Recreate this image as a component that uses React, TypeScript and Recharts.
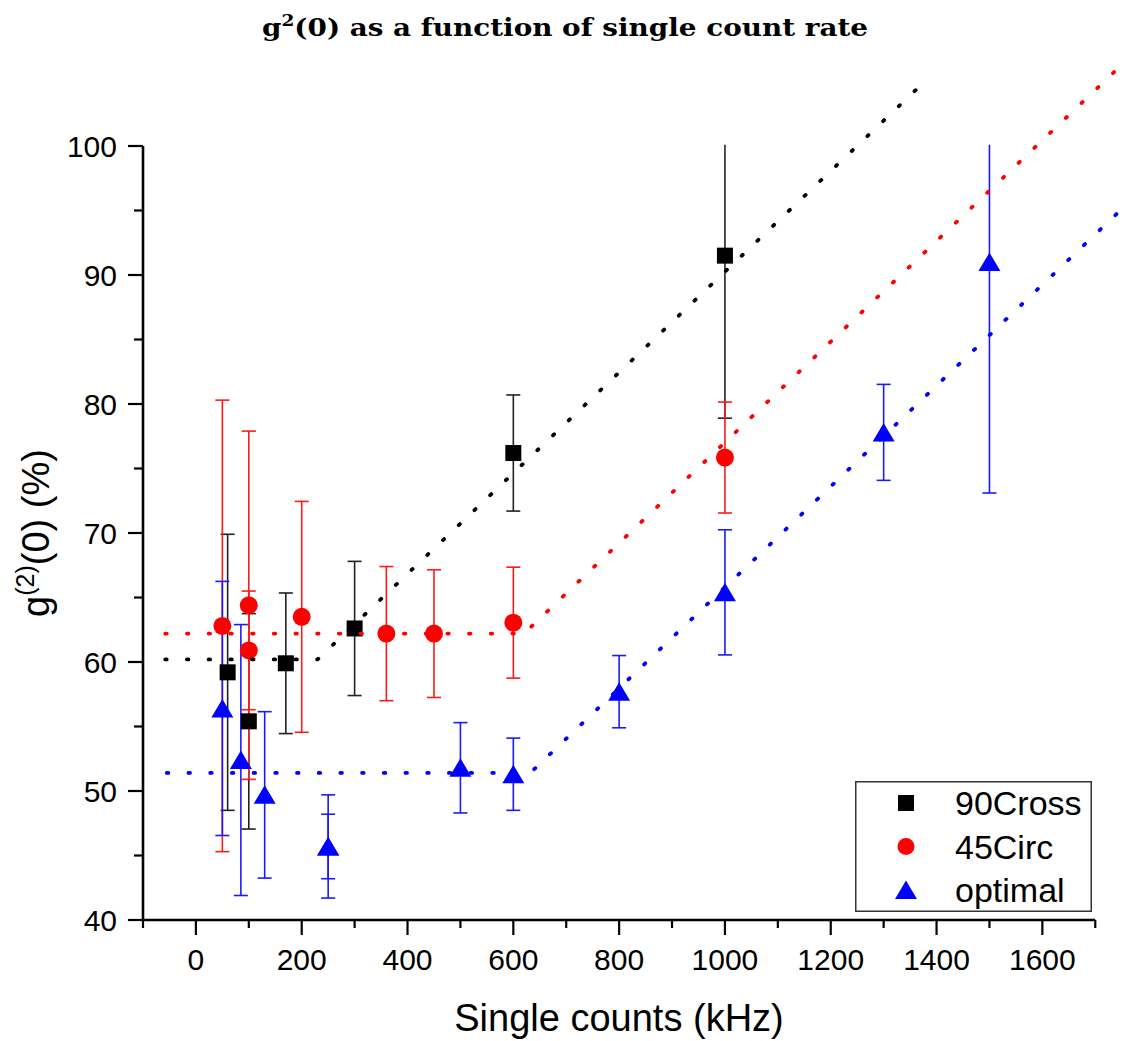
import React from "react";
import {
  ComposedChart,
  Scatter,
  Line,
  XAxis,
  YAxis,
  ErrorBar,
  ReferenceLine,
  ReferenceArea,
  Legend,
} from "recharts";

// measured points: x = single counts (kHz), y = g2(0) (%), e = error
const cross90 = [
  { x: 60, y: 59.2, e: 10.7 },
  { x: 100, y: 55.4, e: 8.35 },
  { x: 170, y: 59.9, e: 5.45 },
  { x: 300, y: 62.6, e: 5.2 },
  { x: 600, y: 76.2, e: 4.5 },
  { x: 1000, y: 91.5, e: 12.6 },
];

const circ45 = [
  { x: 50, y: 62.8, e: 17.5 },
  { x: 100, y: 64.4, e: 13.5 },
  { x: 100, y: 60.9, e: 4.6 },
  { x: 200, y: 63.5, e: 8.95 },
  { x: 360, y: 62.2, e: 5.2 },
  { x: 450, y: 62.2, e: 4.95 },
  { x: 600, y: 63.05, e: 4.3 },
  { x: 1000, y: 75.85, e: 4.3 },
];

const optimal = [
  { x: 50, y: 56.4, e: 9.85 },
  { x: 85, y: 52.4, e: 10.5 },
  { x: 130, y: 49.7, e: 6.45 },
  { x: 250, y: 45.7, e: 4.0 },
  { x: 250, y: 45.7, e: 2.5 },
  { x: 500, y: 51.8, e: 3.5 },
  { x: 600, y: 51.3, e: 2.8 },
  { x: 800, y: 57.7, e: 2.8 },
  { x: 1000, y: 65.4, e: 4.85 },
  { x: 1300, y: 77.8, e: 3.72 },
  { x: 1500, y: 91.0, e: 17.9 },
];

// piecewise fits (flat then linear)
const fitCross90 = [
  { x: -58, y: 60.2 },
  { x: 230, y: 60.2 },
  { x: 1370, y: 104.7 },
];
const fitCirc45 = [
  { x: -58, y: 62.2 },
  { x: 620, y: 62.2 },
  { x: 1745, y: 106.1 },
];
const fitOptimal = [
  { x: -55, y: 51.4 },
  { x: 632, y: 51.4 },
  { x: 1760, y: 95.5 },
];

const xTicks = [-100, 0, 100, 200, 300, 400, 500, 600, 700, 800, 900, 1000, 1100, 1200, 1300, 1400, 1500, 1600, 1700];
const yTicks = [40, 45, 50, 55, 60, 65, 70, 75, 80, 85, 90, 95, 100];

const legendNames = ["90Cross", "45Circ", "optimal"];
const colors = ["#000000", "#ff0000", "#0000ff"];

const FONT = "'Liberation Sans', Arial, sans-serif";
const dotted = { strokeWidth: 3.8, strokeDasharray: "1.5 20.2", strokeLinecap: "round" as const };

const XTick = (props: any) => {
  const { x, y, payload } = props;
  const v = payload.value;
  const major = v % 200 === 0;
  return (
    <g>
      <line x1={x} y1={y} x2={x} y2={y + (major ? 15 : 8)} stroke="#000" strokeWidth={2.2} />
      {major && (
        <text x={x} y={y + 50} textAnchor="middle" fontSize={30} fontFamily={FONT} fill="#000">
          {v}
        </text>
      )}
    </g>
  );
};

const YTick = (props: any) => {
  const { x, y, payload } = props;
  const v = payload.value;
  const major = v % 10 === 0;
  return (
    <g>
      <line x1={x - (major ? 15 : 9)} y1={y} x2={x} y2={y} stroke="#000" strokeWidth={2.2} />
      {major && (
        <text x={x - 26} y={y} dy="0.36em" textAnchor="end" fontSize={30} fontFamily={FONT} fill="#000">
          {v}
        </text>
      )}
    </g>
  );
};

const YLabel = () => (
  <text
    x={49}
    y={533}
    transform="rotate(-90 49 533)"
    textAnchor="middle"
    fontSize={38}
    fontFamily={FONT}
    fill="#000"
  >
    g
    <tspan dy={-15} fontSize={25}>
      (2)
    </tspan>
    <tspan dy={15}>(0) (%)</tspan>
  </text>
);

const XLabel = () => (
  <text x={619} y={1031} textAnchor="middle" fontSize={38} fontFamily={FONT} fill="#000">
    Single counts (kHz)
  </text>
);

const Square = (p: any) => <rect x={p.cx - 8} y={p.cy - 8} width={16} height={16} fill={colors[0]} />;
const Circle = (p: any) => <circle cx={p.cx} cy={p.cy} r={9} fill={colors[1]} />;
const Triangle = (p: any) => (
  <polygon
    points={`${p.cx},${p.cy - 9.5} ${p.cx + 11},${p.cy + 9} ${p.cx - 11},${p.cy + 9}`}
    fill={colors[2]}
  />
);

const renderLegend = () => (
  <svg width={237} height={131} style={{ display: "block" }}>
    <rect x={0.75} y={0.75} width={235.5} height={129.5} fill="#fff" stroke="#333" strokeWidth={1.5} />
    {legendNames.map((name, i) => {
      const cy = 22 + i * 43.5;
      const cx = 51;
      return (
        <g key={name}>
          {i === 0 && <rect x={cx - 8} y={cy - 8} width={16} height={16} fill={colors[0]} />}
          {i === 1 && <circle cx={cx} cy={cy} r={8.5} fill={colors[1]} />}
          {i === 2 && (
            <polygon points={`${cx},${cy - 9.5} ${cx + 11},${cy + 9} ${cx - 11},${cy + 9}`} fill={colors[2]} />
          )}
          <text x={100} y={cy} dy="0.36em" fontSize={34} fontFamily={FONT} fill="#000">
            {name}
          </text>
        </g>
      );
    })}
  </svg>
);

export default function App() {
  return (
    <div style={{ position: "absolute", left: 0, top: 0, width: 1127, height: 1041, background: "#fff" }}>
      <ComposedChart width={1127} height={1041} margin={{ top: 17, right: 0, bottom: 0, left: 0 }}>
        <XAxis
          dataKey="x"
          type="number"
          domain={[-100, 1760]}
          ticks={xTicks}
          interval={0}
          tick={<XTick />}
          tickLine={false}
          axisLine={false}
          tickSize={0}
          tickMargin={0}
          height={121}
          label={<XLabel />}
        />
        <YAxis
          type="number"
          domain={[40, 110]}
          ticks={yTicks}
          interval={0}
          tick={<YTick />}
          tickLine={false}
          axisLine={false}
          tickSize={0}
          tickMargin={0}
          width={143}
          label={<YLabel />}
        />
        <Scatter name="90Cross" data={cross90} dataKey="y" fill={colors[0]} shape={Square} isAnimationActive={false}>
          <ErrorBar dataKey="e" direction="y" width={7} stroke="#222" strokeWidth={1.6} />
        </Scatter>
        <Scatter name="45Circ" data={circ45} dataKey="y" fill={colors[1]} shape={Circle} isAnimationActive={false}>
          <ErrorBar dataKey="e" direction="y" width={7} stroke="#ff1a1a" strokeWidth={1.6} />
        </Scatter>
        <Scatter name="optimal" data={optimal} dataKey="y" fill={colors[2]} shape={Triangle} isAnimationActive={false}>
          <ErrorBar dataKey="e" direction="y" width={7} stroke="#1a1aff" strokeWidth={1.6} />
        </Scatter>
        {/* blank out error bars above the top of the frame */}
        <ReferenceArea x1={-100} x2={1760} y1={100.1} y2={110} fill="#fff" fillOpacity={1} stroke="none" zIndex={650} />
        <Line data={fitCross90} dataKey="y" type="linear" stroke={colors[0]} {...dotted} dot={false} activeDot={false} legendType="none" isAnimationActive={false} zIndex={700} />
        <Line data={fitCirc45} dataKey="y" type="linear" stroke={colors[1]} {...dotted} dot={false} activeDot={false} legendType="none" isAnimationActive={false} zIndex={700} />
        <Line data={fitOptimal} dataKey="y" type="linear" stroke={colors[2]} {...dotted} dot={false} activeDot={false} legendType="none" isAnimationActive={false} zIndex={700} />
        <ReferenceLine segment={[{ x: -100, y: 40 }, { x: 1700, y: 40 }]} stroke="#000" strokeWidth={2.6} zIndex={700} />
        <ReferenceLine segment={[{ x: -100, y: 40 }, { x: -100, y: 100 }]} stroke="#000" strokeWidth={2.6} zIndex={700} />
        <Legend
          layout="vertical"
          align="center"
          verticalAlign="middle"
          wrapperStyle={{ left: 855, top: 781, width: 237, height: 131 }}
          content={renderLegend}
        />
      </ComposedChart>
      <svg
        width={1127}
        height={60}
        style={{ position: "absolute", left: 0, top: 0, pointerEvents: "none" }}
      >
        <text
          x={565}
          y={36}
          textAnchor="middle"
          fontSize={24}
          fontWeight="bold"
          fontFamily="'DejaVu Serif', serif"
          fill="#000"
          textLength={606}
          lengthAdjust="spacingAndGlyphs"
        >
          g
          <tspan dy={-10} fontSize={16}>
            2
          </tspan>
          <tspan dy={10}>(0) as a function of single count rate</tspan>
        </text>
      </svg>
    </div>
  );
}
